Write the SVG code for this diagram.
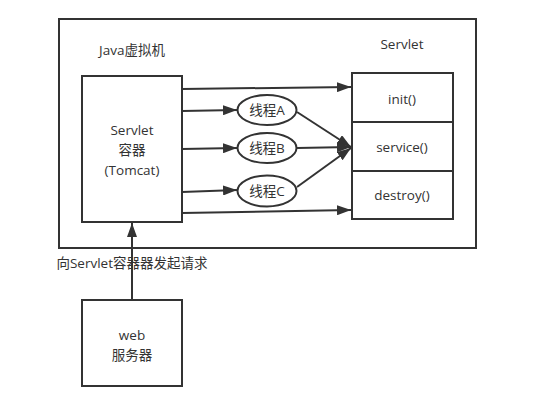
<svg xmlns="http://www.w3.org/2000/svg" width="538" height="408" viewBox="0 0 538 408">
<style>
.box{fill:#fff;stroke:#333;stroke-width:2}
.ln{stroke:#333;stroke-width:2;fill:none}
text{font-family:"Open Sans","Noto Sans CJK SC",sans-serif;font-size:13.5px;fill:#333;text-anchor:middle;dominant-baseline:central}
</style>
<defs>
<marker id="ah" viewBox="0 0 14 10" refX="14" refY="5" markerWidth="7" markerHeight="5" orient="auto" markerUnits="strokeWidth">
<path d="M0,0 L14,5 L0,10 z" fill="#333"/>
</marker>
</defs>
<rect width="538" height="408" fill="#fff"/>
<g id="jvm">
<rect class="box" x="59" y="19" width="417" height="229"/>
<text x="132" y="50">Java虚拟机</text>
</g>
<g id="container">
<rect class="box" x="82" y="76" width="100" height="146"/>
<text x="132" y="130">Servlet</text>
<text x="132" y="150">容器</text>
<text x="132" y="170">(Tomcat)</text>
</g>
<g id="servlet">
<text x="402" y="44">Servlet</text>
<rect class="box" x="352" y="73" width="101" height="146"/>
<line class="ln" x1="352" y1="122" x2="453" y2="122"/>
<line class="ln" x1="352" y1="171" x2="453" y2="171"/>
<text x="402" y="99">init()</text>
<text x="402" y="147">service()</text>
<text x="402" y="195">destroy()</text>
</g>
<g id="threadA">
<ellipse class="box" cx="267" cy="110" rx="29.5" ry="15"/>
<text x="267" y="110">线程A</text>
</g>
<g id="threadB">
<ellipse class="box" cx="267" cy="148" rx="29.5" ry="15"/>
<text x="267" y="148">线程B</text>
</g>
<g id="threadC">
<ellipse class="box" cx="267" cy="191" rx="29.5" ry="15.5"/>
<text x="267" y="191">线程C</text>
</g>
<g id="web">
<rect class="box" x="82" y="300" width="100" height="86"/>
<text x="132" y="335">web</text>
<text x="132" y="355">服务器</text>
</g>
<g id="connectors">
<line class="ln" x1="182" y1="89" x2="351" y2="87" marker-end="url(#ah)"/>
<line class="ln" x1="182" y1="111" x2="237" y2="110" marker-end="url(#ah)"/>
<line class="ln" x1="182" y1="149" x2="237" y2="148" marker-end="url(#ah)"/>
<line class="ln" x1="182" y1="192" x2="237" y2="190" marker-end="url(#ah)"/>
<line class="ln" x1="182" y1="213" x2="351" y2="210" marker-end="url(#ah)"/>
<line class="ln" x1="297" y1="112" x2="351" y2="147" marker-end="url(#ah)"/>
<line class="ln" x1="297" y1="148" x2="351" y2="147" marker-end="url(#ah)"/>
<line class="ln" x1="297" y1="187" x2="351" y2="148" marker-end="url(#ah)"/>
<line class="ln" x1="132" y1="300" x2="132" y2="223" marker-end="url(#ah)"/>
<text x="132" y="263">向Servlet容器器发起请求</text>
</g>
</svg>
